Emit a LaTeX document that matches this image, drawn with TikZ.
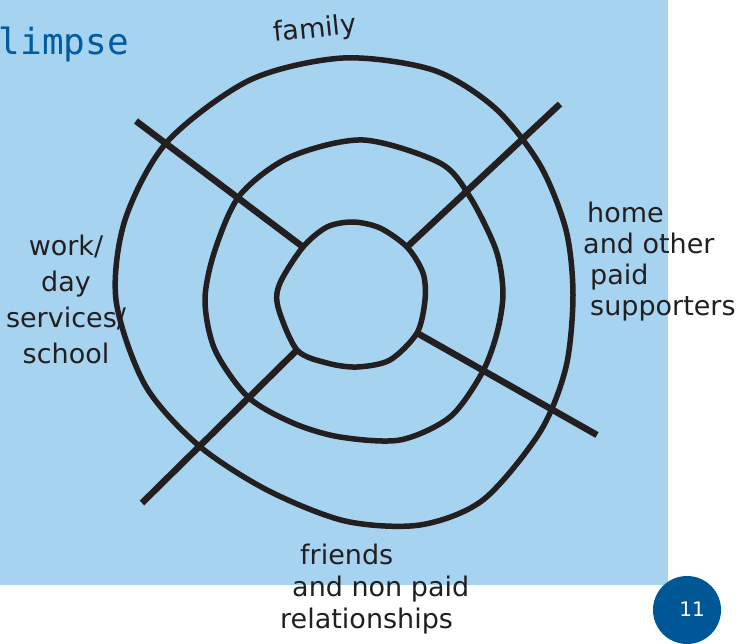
\documentclass[tikz,border=0pt]{standalone}
\usepackage{fontspec}
\setmainfont{DejaVu Sans}
\newfontfamily\monofont{DejaVu Sans Mono}
\usetikzlibrary{positioning}
\definecolor{glimpseSky}{RGB}{165, 211, 240}
\definecolor{glimpseNavy}{RGB}{0, 87, 150}
\definecolor{glimpseTitle}{RGB}{0, 92, 160}
\definecolor{glimpseInk}{RGB}{35, 31, 32}

\begin{document}
\begin{tikzpicture}[
  x=1pt,y=-1pt,
  ring/.style={draw=glimpseInk,line width=5.5pt},
  spoke/.style={draw=glimpseInk,line width=6.5pt},
  hand/.style={
    text=glimpseInk,
    inner sep=0pt,
    font=\fontsize{27}{31}\selectfont
  }
]
  \useasboundingbox (0,0) rectangle (745,644);
  \fill[glimpseSky] (0,0) rectangle (668,585);
  \node[anchor=base east,inner sep=0pt,text=glimpseTitle,font=\monofont\fontsize{36}{40}\selectfont] (title) at (129,55) {limpse};

  % spoke ends
  \coordinate (tlOut) at (136,121);
  \coordinate (tlIn) at (303,247);
  \coordinate (trOut) at (560,104);
  \coordinate (trIn) at (407,247);
  \coordinate (brOut) at (597,435);
  \coordinate (brIn) at (417,333);
  \coordinate (blOut) at (142,503);
  \coordinate (blIn) at (297,350);
  \draw[spoke] (tlOut) -- (tlIn);
  \draw[spoke] (trOut) -- (trIn);
  \draw[spoke] (brOut) -- (brIn);
  \draw[spoke] (blOut) -- (blIn);

  % rings
  \draw[ring] plot[smooth cycle] coordinates {
    (343,58) (433,70) (495,108) (540,165) (566,230) (573,295)
    (566,367) (540,432) (483,500) (420,525) (345,521) (267,490)
    (198,445) (145,385) (116,300) (125,220) (167,142) (250,80)};
  \draw[ring] plot[smooth cycle] coordinates {
    (363,140) (440,163) (470,197) (496,250) (503,293) (497,333)
    (482,373) (450,417) (400,440) (340,437) (293,423) (248,397)
    (215,350) (205,300) (215,250) (240,195) (290,157)};
  \draw[ring] plot[smooth cycle] coordinates {
    (353,222) (380,228) (407,247) (423,273) (425,300) (417,333)
    (390,360) (357,367) (327,363) (297,350) (278,307) (280,283)
    (303,247) (327,227)};

  % labels
  \node[hand,rotate=6] (family) at (315,30) {family};
  \node[hand,align=center,anchor=north,font=\fontsize{27}{36}\selectfont] (work) at (66,235) {work/\\day\\services/\\school};
  \node[hand,align=left,anchor=north west] (home) at (583,202) {\hspace*{4pt}home\\and other\\\hspace*{7pt}paid\\\hspace*{7pt}supporters};
  \node[hand,align=left,anchor=north west,font=\fontsize{27}{32}\selectfont] (friends) at (280,544) {\hspace*{20pt}friends\\\hspace*{12pt}and non paid\\relationships};

  \fill[glimpseNavy] (687,610) circle (34);
  \node[text=white,font=\fontsize{20}{24}\selectfont] (page) at (692,609) {11};
\end{tikzpicture}
\end{document}
